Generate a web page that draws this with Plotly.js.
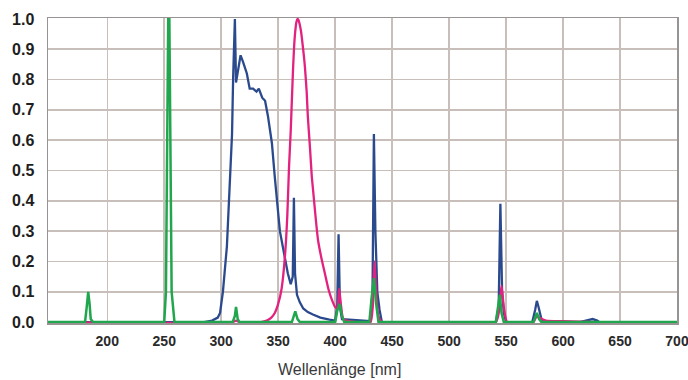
<!DOCTYPE html>
<html><head><meta charset="utf-8">
<script src="https://cdn.plot.ly/plotly-3.0.1.min.js"></script>
<style>html,body{margin:0;padding:0;background:#fff}#chart{width:688px;height:380px}</style>
</head><body><div id="chart"></div>
<script>
// Wavelengths (nm) and relative intensities
const blueX = [148,285,292,297,299,301.5,305,307.5,309.5,310.5,312,313,315,317,319,322.5,325,328,331,333,336,338.5,341,344.5,347,349,351.5,356,358.5,361,362.8,363.8,364.8,366.5,369,372,376,380.5,387,395,400,401.8,403,404.2,406,431,432.8,434,435.3,437,439,441,541,543.5,545,546.5,548,550,573,575.5,577,578.5,581,584,615,620,626,630,632,700];
const blueY = [0,0,0.005,0.015,0.03,0.1,0.25,0.44,0.62,0.81,1.0,0.79,0.83,0.88,0.86,0.82,0.77,0.77,0.76,0.77,0.74,0.73,0.68,0.59,0.48,0.39,0.30,0.21,0.16,0.125,0.15,0.41,0.16,0.09,0.065,0.045,0.033,0.025,0.015,0.008,0.005,0.05,0.29,0.05,0.01,0.003,0.1,0.62,0.3,0.1,0.04,0,0,0.05,0.39,0.1,0.03,0,0,0.04,0.07,0.05,0.01,0,0,0.005,0.01,0.005,0,0];

const pinkX = [148,310,313,316,335,340,344,347,350,353,356,358,359.5,361,362,363,364,365,366,367,368,369,370,371,372.5,373.5,375,376,378,379.5,380.5,383,385,388,391,394,397,400,402,403.5,405,407,410,420,431,433,434.5,436,438,441,541,544,546,548,551,574,577,579,585,600,630,700];
const pinkY = [0,0,0.005,0,0,0.005,0.015,0.03,0.06,0.11,0.22,0.35,0.51,0.63,0.73,0.83,0.91,0.96,0.99,1.0,0.995,0.98,0.96,0.93,0.88,0.84,0.76,0.68,0.57,0.48,0.44,0.34,0.27,0.21,0.16,0.11,0.075,0.05,0.045,0.11,0.06,0.01,0.005,0,0,0.05,0.2,0.1,0.02,0,0,0.04,0.12,0.05,0,0,0.02,0.015,0.005,0.003,0,0];

const greenX = [148,180.5,182,183.3,184.5,185.5,187.5,250,251.5,252,253.5,254.5,255.5,256.5,259,310,312,313,314.5,316,362,364,365,367,369,400,402,404,406,408,430,432,434,436,438,541,543,544.5,546,548,574,576,577,579,581,700];
const greenY = [0,0,0.05,0.10,0.06,0.01,0,0,0.1,0.4,1.0,1.0,0.4,0.1,0,0,0.02,0.05,0.01,0,0,0.02,0.035,0.01,0,0,0.04,0.06,0.02,0,0,0.08,0.145,0.06,0,0,0.05,0.09,0.03,0,0,0.02,0.03,0.01,0,0];

const xTicks = [200,250,300,350,400,450,500,550,600,650,700];
const yTicks = [0,0.1,0.2,0.3,0.4,0.5,0.6,0.7,0.8,0.9,1.0];
const yTickText = ['0.0','0.1','0.2','0.3','0.4','0.5','0.6','0.7','0.8','0.9','1.0'];
const xTitle = 'Wellenlänge [nm]';

const traces = [
  {x: blueX, y: blueY, mode:'lines', line:{color:'#2b4a8e', width:2.3}, hoverinfo:'skip'},
  {x: pinkX, y: pinkY, mode:'lines', line:{color:'#e3217f', width:2.3, shape:'spline', smoothing:0.5}, hoverinfo:'skip'},
  {x: greenX, y: greenY, mode:'lines', line:{color:'#20a64c', width:2.5}, hoverinfo:'skip'}
];

const layout = {
  width:688, height:380,
  margin:{l:48, r:11, t:18, b:57},
  paper_bgcolor:'#ffffff', plot_bgcolor:'#ffffff',
  showlegend:false,
  xaxis:{
    range:[148,700], tickmode:'array', tickvals:xTicks, ticktext:xTicks.map(String),
    showgrid:true, gridcolor:'#c8bfba', gridwidth:1.5,
    showline:true, mirror:true, linecolor:'#989494', linewidth:1.5,
    zeroline:false, ticks:'', ticklabelstandoff:5, ticklabeloverflow:'allow',
    tickfont:{family:'Liberation Sans, Arial, sans-serif', size:14, color:'#2a2a2a', weight:'bold'}
  },
  yaxis:{
    range:[-0.003,1.003], tickmode:'array', tickvals:yTicks, ticktext:yTickText,
    showgrid:true, gridcolor:'#c8bfba', gridwidth:1.5,
    showline:true, mirror:true, linecolor:'#989494', linewidth:1.5,
    zeroline:false, ticks:'', ticklabelstandoff:9,
    tickfont:{family:'Liberation Sans, Arial, sans-serif', size:16, color:'#1e1e1e', weight:'bold'}
  },
  annotations:[{
    text:xTitle, xref:'paper', yref:'paper', x:0.464, y:-0.152,
    xanchor:'center', yanchor:'middle', showarrow:false,
    font:{family:'Liberation Sans, Arial, sans-serif', size:16, color:'#3a3a3a'}
  }]
};

Plotly.newPlot('chart', traces, layout, {displayModeBar:false, staticPlot:true});
</script>
</body></html>
